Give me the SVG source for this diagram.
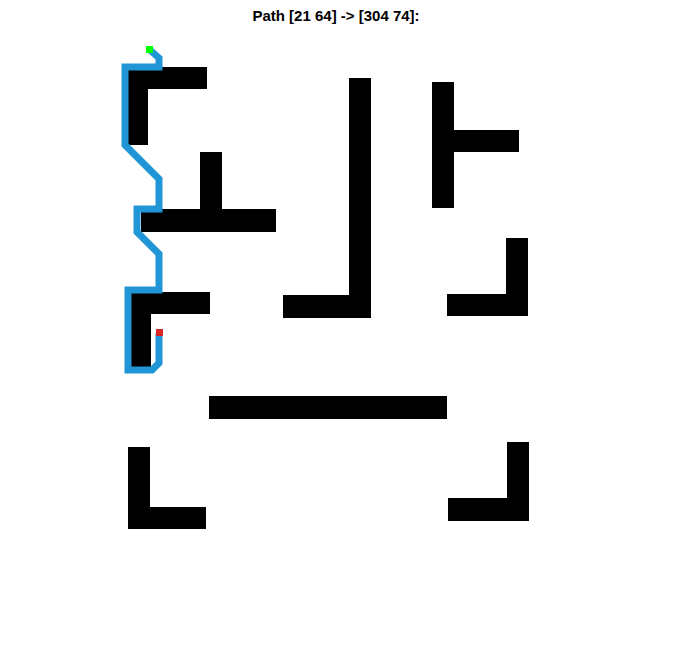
<svg xmlns="http://www.w3.org/2000/svg" width="673" height="654" viewBox="0 0 673 654">
  <style>
    .wall { fill: #000000; }
    .title { font-family: "Liberation Sans", Arial, sans-serif; font-weight: bold; font-size: 15px; fill: #000000; }
    .path { fill: none; stroke: #2196D6; stroke-width: 7; stroke-linejoin: miter; stroke-linecap: butt; }
  </style>
  <rect x="0" y="0" width="673" height="654" fill="#ffffff"/>
  <text class="title" x="336" y="21" text-anchor="middle">Path [21 64] -&gt; [304 74]:</text>
  <g id="walls">
    <g id="wall1"><rect class="wall" x="128" y="67" width="79" height="22"/><rect class="wall" x="128" y="67" width="20" height="78"/></g>
    <g id="wall2"><rect class="wall" x="200" y="152" width="22" height="58"/><rect class="wall" x="141" y="209" width="135" height="23"/></g>
    <g id="wall3"><rect class="wall" x="131" y="292" width="79" height="22"/><rect class="wall" x="131" y="292" width="20" height="75"/></g>
    <g id="wall4"><rect class="wall" x="349" y="78" width="22" height="240"/><rect class="wall" x="283" y="295" width="88" height="23"/></g>
    <g id="wall5"><rect class="wall" x="432" y="82" width="22" height="126"/><rect class="wall" x="432" y="130" width="87" height="22"/></g>
    <g id="wall6"><rect class="wall" x="506" y="238" width="22" height="78"/><rect class="wall" x="447" y="294" width="81" height="22"/></g>
    <g id="wall7"><rect class="wall" x="209" y="396" width="238" height="23"/></g>
    <g id="wall8"><rect class="wall" x="128" y="447" width="22" height="82"/><rect class="wall" x="128" y="507" width="78" height="22"/></g>
    <g id="wall9"><rect class="wall" x="507" y="442" width="22" height="79"/><rect class="wall" x="448" y="498" width="81" height="23"/></g>
  </g>
  <g id="connectors">
    <polyline class="path" points="150,50 159,58 159,67 125,67 125,145 159,179 159,209 137,209 137,232 159,254 159,290 128,290 128,370 152,370 159,363 159,333"/>
  </g>
  <g id="start"><rect x="146" y="46" width="7" height="7" fill="#00FF00"/></g>
  <g id="goal"><rect x="156" y="329" width="7" height="7" fill="#D92626"/></g>
</svg>
